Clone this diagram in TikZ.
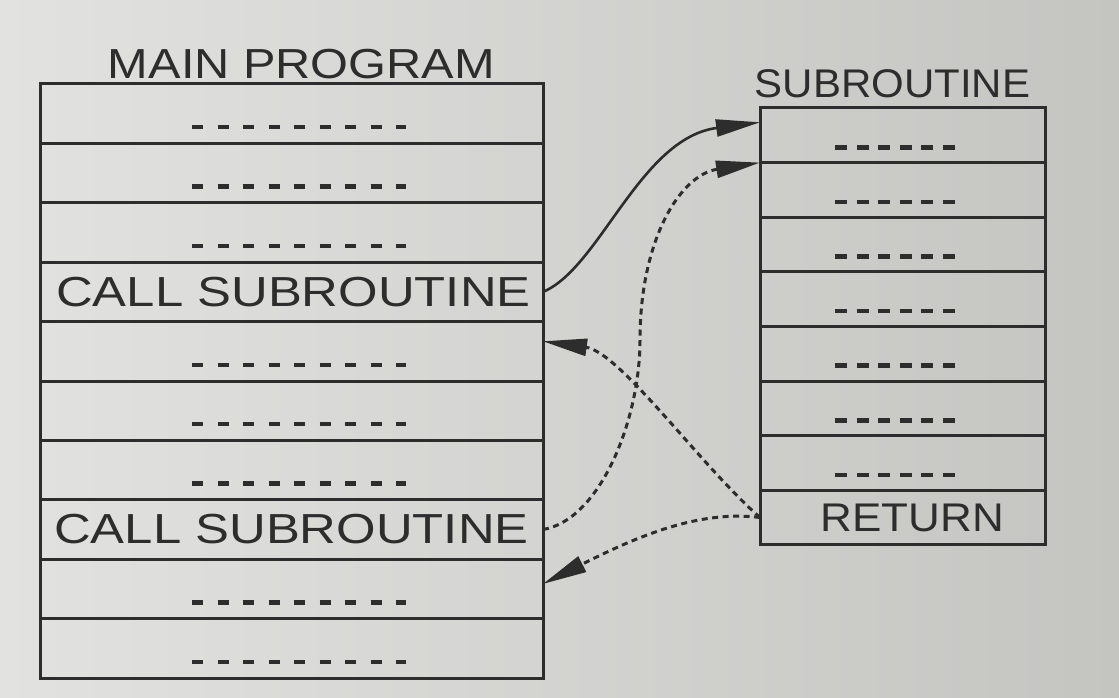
\documentclass[tikz,border=0pt]{standalone}
\usepackage{fontspec}
\setmainfont{Liberation Sans}
\usepackage{graphicx}
\usetikzlibrary{arrows.meta}
\definecolor{paperL}{RGB}{226,226,224}
\definecolor{paperR}{RGB}{196,196,193}
\definecolor{ink}{RGB}{45,45,45}
\tikzset{
  mrow/.style={draw=ink, line width=3pt, minimum width=503pt, minimum height=59.4pt, inner sep=0pt, outer sep=0pt},
  srow/.style={draw=ink, line width=3pt, minimum width=285pt, minimum height=54.6pt, inner sep=0pt, outer sep=0pt},
  mdash/.style={draw=ink, line width=4.5pt, dash pattern=on 11pt off 14.5pt},
  sdash/.style={draw=ink, line width=4.5pt, dash pattern=on 12pt off 9.6pt},
  lbl/.style={text=ink, inner sep=0pt, font=\fontsize{42}{48}\selectfont},
  lblsmall/.style={text=ink, inner sep=0pt, font=\fontsize{40}{46}\selectfont},
  callarrow/.style={draw=ink, line width=2.6pt, -{Triangle[length=44pt,width=17pt]}},
  retarrow/.style={callarrow, dash pattern=on 6pt off 4.5pt, line width=3pt},
}
\begin{document}
\begin{tikzpicture}[x=1pt, y=-1pt]
  \useasboundingbox (0,0) rectangle (1119,698);
  \shade[left color=paperL, right color=paperR] (0,0) rectangle (1119,698);

  % headings
  \node[lbl] (mainlbl) at (301.5,64) {\scalebox{1.16}[1]{MAIN PROGRAM}};
  \node[lblsmall] (sublbl) at (892.5,84) {\scalebox{1.05}[1]{SUBROUTINE}};

  % main program rows
  \foreach \i in {1,...,10}
    \node[mrow] (m\i) at (291.5,{84+59.4*(\i-0.5)}) {};
  \foreach \i in {1,2,3,5,6,7,9,10}
    \draw[mdash] ([xshift=-99.5pt,yshift=-13.5pt]m\i.center) -- ++(214,0);
  \node[lbl] (call1) at ([xshift=2pt]m4.center) {\scalebox{1.21}[1]{CALL SUBROUTINE}};
  \node[lbl] (call2) at ([xshift=0pt]m8.center) {\scalebox{1.21}[1]{CALL SUBROUTINE}};

  % subroutine rows
  \foreach \i in {1,...,8}
    \node[srow] (s\i) at (902.5,{108+54.6*(\i-0.5)}) {};
  \foreach \i in {1,...,7}
    \draw[sdash] ([xshift=-67.5pt,yshift=-12pt]s\i.center) -- ++(120,0);
  \node[lblsmall] (ret) at ([xshift=10pt]s8.center) {\scalebox{1.10}[1]{RETURN}};

  % connectors
  \coordinate (bend) at (640,340);
  \draw[callarrow] (m4.east) .. controls (600,268) and (640,138) .. ([yshift=13pt]s1.west);
  \draw[retarrow] (m8.east) .. controls (600,520) and (640,420) .. (bend)
                   .. controls (640,240) and (680,175) .. (s1.south west);
  \draw[retarrow] (s8.west) .. controls (700,465) and (620,352) .. ([yshift=10pt]m5.east);
  \draw[retarrow] (s8.west) .. controls (700,510) and (640,535) .. ([yshift=5pt]m9.east);
\end{tikzpicture}
\end{document}
